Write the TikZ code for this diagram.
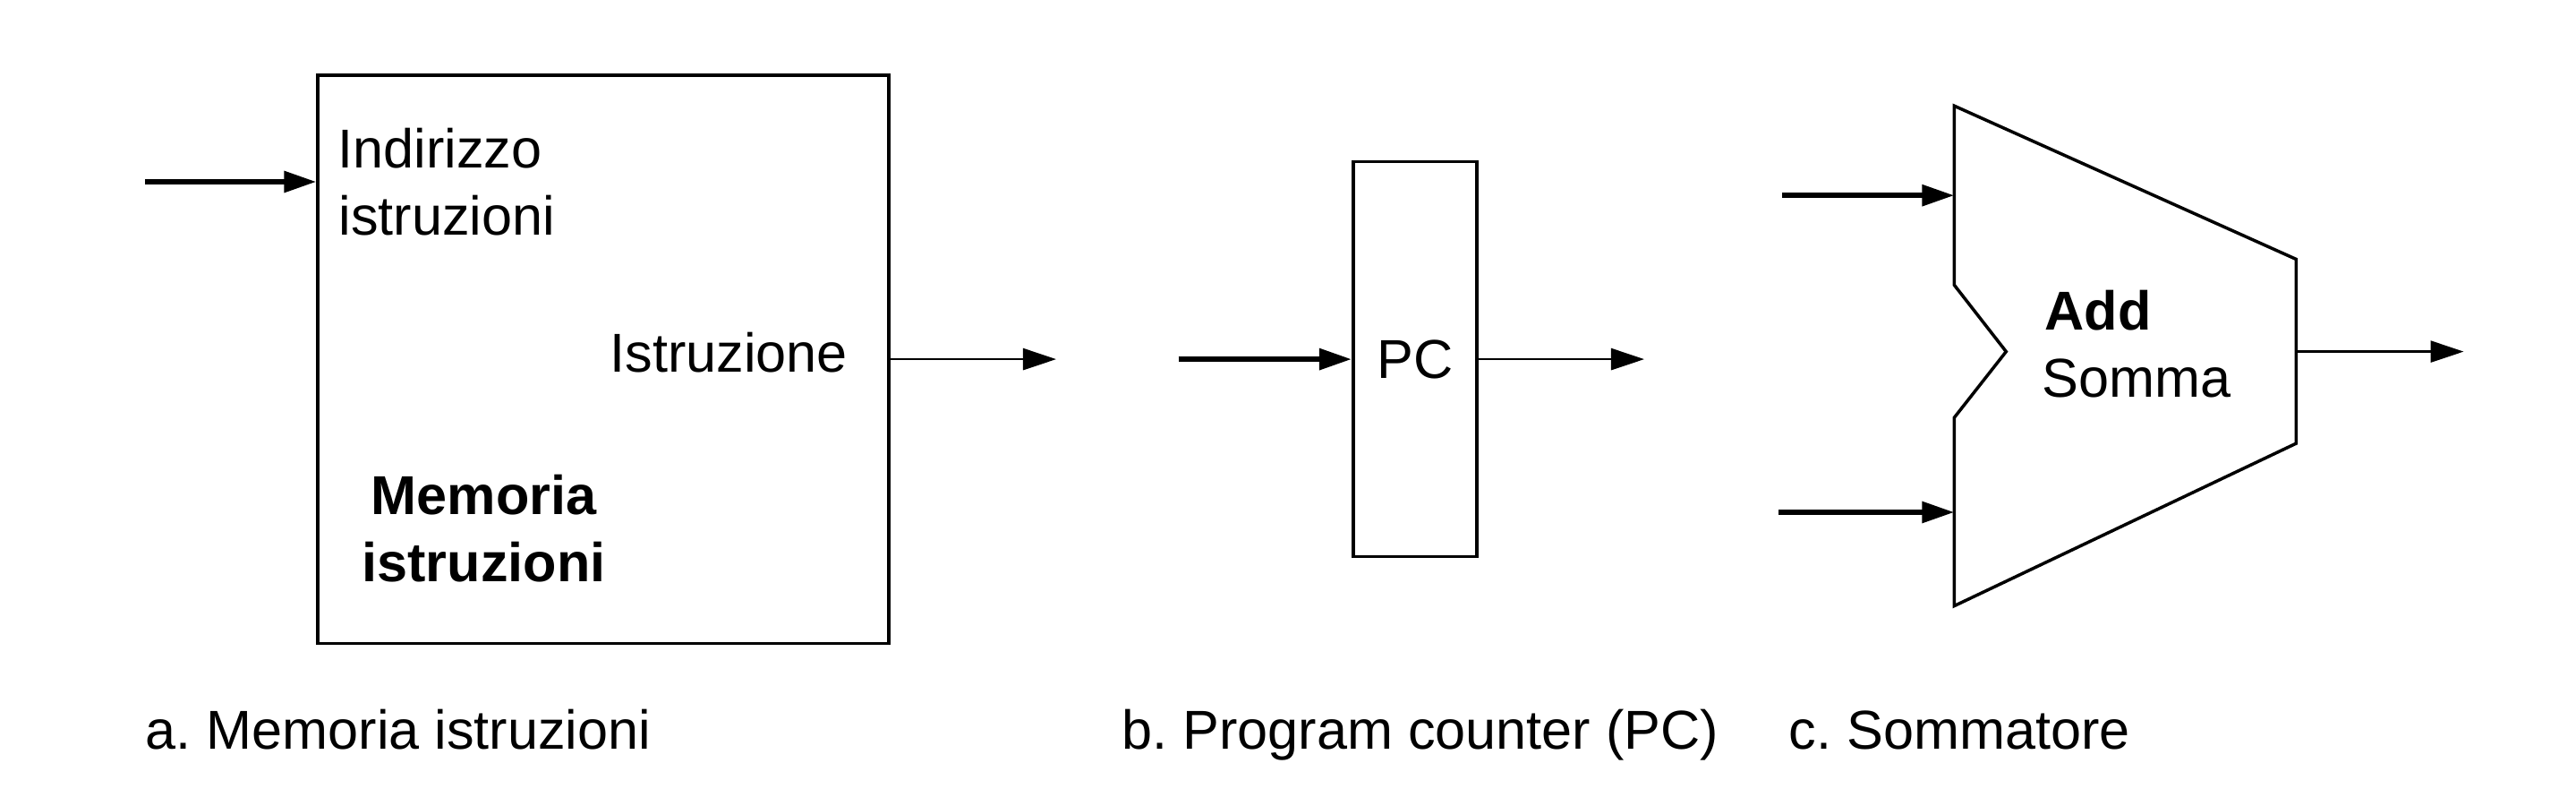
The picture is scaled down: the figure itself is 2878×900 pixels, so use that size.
\documentclass[tikz,border=0pt]{standalone}
\usepackage{fontspec}
\setmainfont{Liberation Sans}
\usetikzlibrary{arrows.meta}
\frenchspacing
\begin{document}
\begin{tikzpicture}[x=0.01cm,y=-0.01cm,
  font=\fontsize{17.4}{21.5}\selectfont,
  box/.style={draw, line width=1pt, inner sep=0pt},
  lbl/.style={inner sep=0pt, anchor=base west},
  clbl/.style={inner sep=0pt, anchor=base},
  inarrow/.style={line width=1.7pt, -{Triangle[length=3.6mm,width=2.3mm]}},
  outarrow/.style={line width=0.75pt, -{Triangle[length=3.7mm,width=2.4mm]}}]
\useasboundingbox (0,0) rectangle (2878,900);

% a. Memoria istruzioni
\node[box, minimum width=6.374cm, minimum height=6.342cm] (mem) at (674,401.1) {};
\coordinate (memsrc) at (162,203);
\coordinate (memdst) at (1180,401.1);
\draw[inarrow] (memsrc) -- (mem.west |- memsrc);
\draw[outarrow] (mem.east) -- (memdst);
\node[lbl] (ind1) at (377,187.3) {Indirizzo};
\node[lbl] (ind2) at (378,262.7) {istruzioni};
\node[lbl] (istr) at (681,415.3) {Istruzione};
\node[clbl] (mem1) at (540.6,574.4) {\bfseries Memoria};
\node[clbl] (mem2) at (540.4,649.3) {\bfseries istruzioni};
\node[lbl] (capa) at (162,836) {a. Memoria istruzioni};

% b. Program counter
\node[box, minimum width=1.382cm, minimum height=4.406cm] (pc) at (1580.9,401.1) {PC};
\coordinate (pcsrc) at (1316.6,401.1);
\coordinate (pcdst) at (1837,401.1);
\draw[inarrow] (pcsrc) -- (pc.west);
\draw[outarrow] (pc.east) -- (pcdst);
\node[lbl] (capb) at (1253,836) {b. Program counter (PC)};

% c. Sommatore
\coordinate (a1) at (2183.3,118.2);
\coordinate (a2) at (2565.4,289.5);
\coordinate (a3) at (2565.4,495.1);
\coordinate (a4) at (2183.3,676.6);
\coordinate (n1) at (2183.3,466.4);
\coordinate (n2) at (2241.3,392.6);
\coordinate (n3) at (2183.3,318.2);
\draw[line width=1pt, line join=miter] (a1) -- (a2) -- (a3) -- (a4) -- (n1) -- (n2) -- (n3) -- cycle;
\coordinate (in1src) at (1991,218.2);
\coordinate (in1) at (2183.3,218.2);
\coordinate (in2src) at (1987,572);
\coordinate (in2) at (2183.3,572);
\coordinate (addout) at (2565.4,392.6);
\coordinate (adddst) at (2752.5,392.6);
\draw[inarrow] (in1src) -- (in1);
\draw[inarrow] (in2src) -- (in2);
\draw[outarrow] (addout) -- (adddst);
\node[lbl] (add1) at (2284,368) {\bfseries Add};
\node[lbl] (add2) at (2281,443.8) {Somma};
\node[lbl] (capc) at (1998,836) {c. Sommatore};
\end{tikzpicture}
\end{document}
